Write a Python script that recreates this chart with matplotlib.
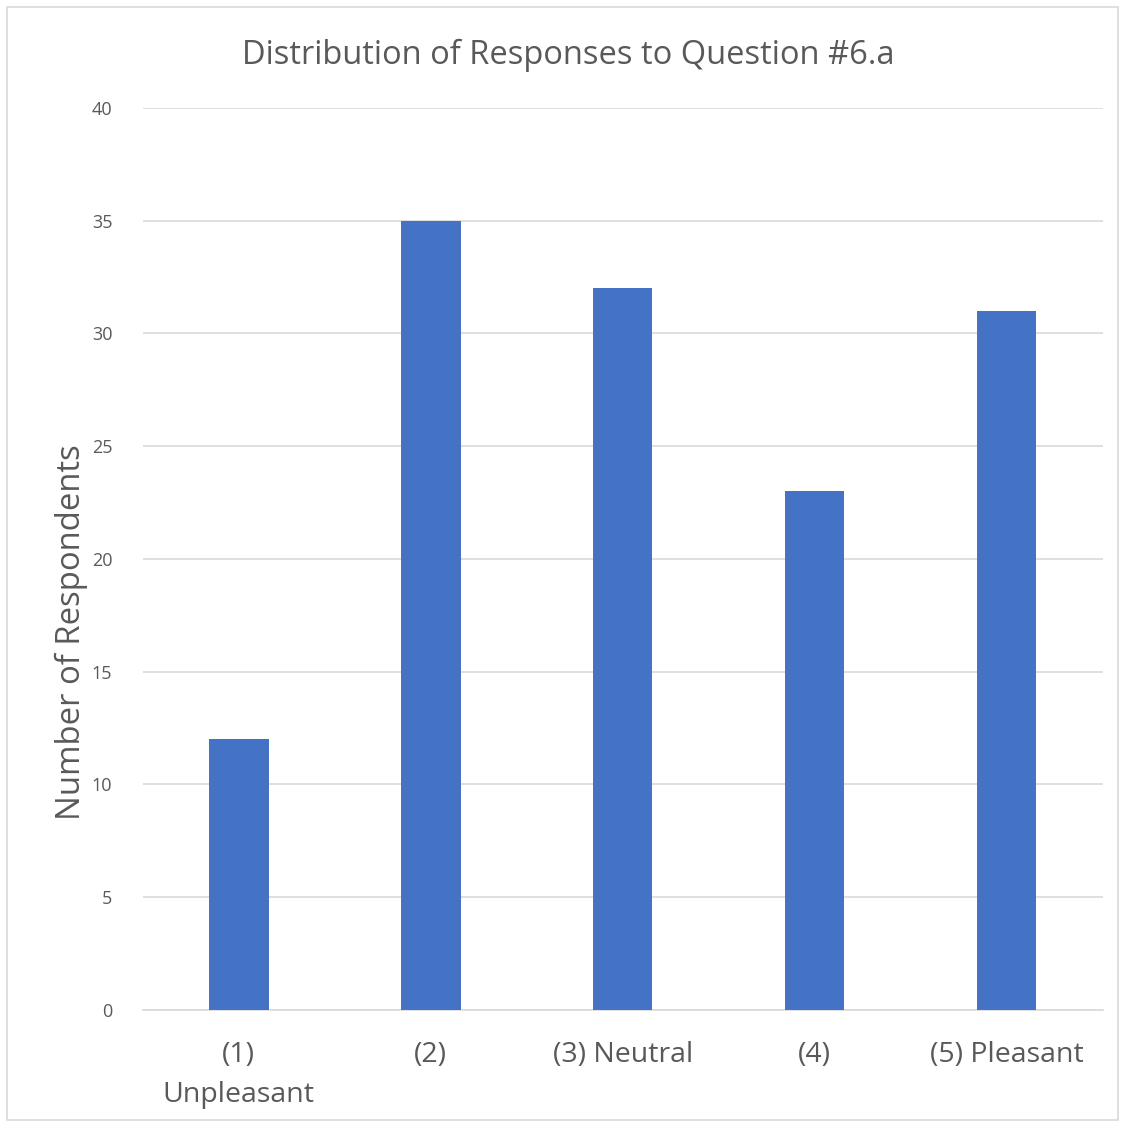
import matplotlib.pyplot as plt
from matplotlib.patches import Rectangle

# data
categories = ['(1)\nUnpleasant', '(2)', '(3) Neutral', '(4)', '(5) Pleasant']
counts = [12, 35, 32, 23, 31]
yticks = [0, 5, 10, 15, 20, 25, 30, 35, 40]

plt.rcParams['font.family'] = ['Open Sans', 'DejaVu Sans']
gray = '#595959'

fig = plt.figure(figsize=(11.25, 11.24), dpi=100)
ax = fig.add_axes([0.127, 0.1014, 0.853, 0.8026])

x = range(len(categories))
ax.bar(x, counts, width=0.31, color='#4472C4', zorder=3)

ax.set_ylim(0, 40)
ax.set_xlim(-0.5, len(categories) - 0.5)
ax.set_yticks(yticks)
ax.set_xticks(list(x))
ax.set_xticklabels(categories, fontsize=20.5, color=gray, linespacing=1.6)
ax.tick_params(axis='y', labelsize=13, colors=gray, length=0, pad=22)
ax.tick_params(axis='x', length=0, pad=22)
ax.grid(axis='y', color='#D9D9D9', linewidth=1.2, zorder=0)
for s in ['top', 'right', 'left']:
    ax.spines[s].set_visible(False)
ax.spines['bottom'].set_color('#D9D9D9')
ax.spines['bottom'].set_linewidth(1.2)

ax.set_ylabel('Number of Respondents', fontsize=23.7, color=gray)
ax.yaxis.set_label_coords(-0.057, 0.419)
fig.text(0.505, 0.951, 'Distribution of Responses to Question #6.a',
         ha='center', va='center', fontsize=23.5, color=gray)

# thin frame around the chart area
fig.patches.append(Rectangle((0.006, 0.004), 0.988, 0.99, transform=fig.transFigure,
                             fill=False, edgecolor='#D9D9D9', linewidth=1.2))

fig.savefig('out.png', dpi=100)
